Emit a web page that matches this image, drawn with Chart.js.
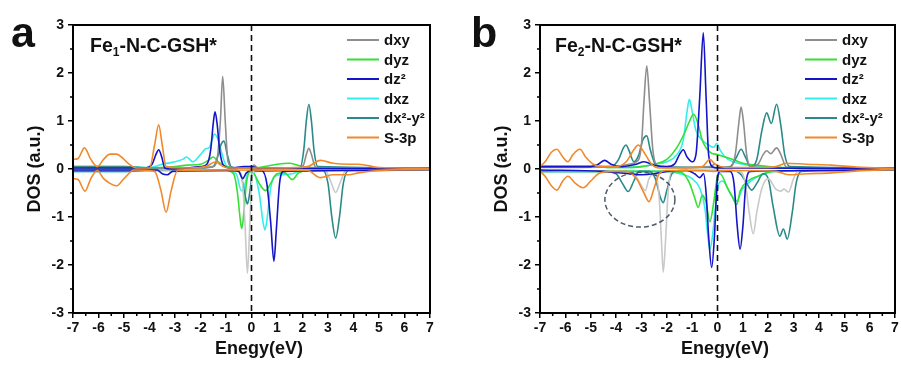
<!DOCTYPE html>
<html><head><meta charset="utf-8">
<script src="https://cdn.jsdelivr.net/npm/chart.js@4.4.1/dist/chart.umd.min.js"></script>
<style>
html,body{margin:0;padding:0;background:#fff;width:901px;height:365px;overflow:hidden}
#wa{position:absolute;left:0;top:0;width:450px;height:365px}
#wb{position:absolute;left:450px;top:0;width:451px;height:365px}
</style></head><body>
<div id="wa"><canvas id="ca"></canvas></div>
<div id="wb"><canvas id="cb"></canvas></div>
<script>
// ---------- labels ----------
const orbitalNames = ['dxy', 'dyz', 'dz\u00B2', 'dxz', 'dx\u00B2-y\u00B2', 'S-3p'];
const xTitle = 'Enegy(eV)';
const yTitle = 'DOS (a.u.)';
const xRange = [-7, 7];
const yRange = [-3, 3];

// ---------- panel a : Fe1-N-C-GSH*  ([energy, DOS]) ----------
const a_dxy_up = [[-7,0.03],[-5,0.03],[-3,0.02],[-2,0.03],[-1.5,0.05],[-1.35,0.2],[-1.22,1.0],[-1.13,1.93],[-1.03,1.0],[-0.92,0.15],[-0.7,0.02],[0,0.02],[0.1,0.08],[0.25,0.02],[1.9,0.02],[2.05,0.1],[2.15,0.3],[2.25,0.43],[2.35,0.3],[2.5,0.05],[2.7,0.02],[4,0.02],[7,0.01]];
const a_dxy_dn = [[-7,-0.02],[-1,-0.02],[-0.5,-0.05],[-0.35,-0.3],[-0.25,-1.2],[-0.16,-2.17],[-0.07,-1.2],[0.02,-0.2],[0.15,-0.02],[2.9,-0.03],[3.1,-0.25],[3.3,-0.49],[3.5,-0.25],[3.7,-0.03],[7,-0.01]];
const a_dyz_up = [[-7,0.02],[-4,0.02],[-3,0.05],[-2.5,0.08],[-2,0.1],[-1.7,0.18],[-1.5,0.25],[-1.3,0.15],[-1.0,0.05],[-0.6,0.02],[0,0.02],[0.5,0.05],[1.0,0.1],[1.5,0.12],[2.0,0.05],[3,0.02],[7,0.01]];
const a_dyz_dn = [[-7,-0.02],[-1,-0.03],[-0.7,-0.1],[-0.55,-0.5],[-0.42,-1.15],[-0.38,-1.24],[-0.3,-0.9],[-0.2,-0.3],[-0.05,-0.05],[0.1,-0.1],[0.3,-0.3],[0.55,-0.45],[0.75,-0.3],[1.0,-0.1],[1.3,-0.08],[1.6,-0.22],[1.85,-0.08],[2.2,-0.03],[7,-0.01]];
const a_dz2_up = [[-7,0.02],[-4.2,0.02],[-3.9,0.1],[-3.75,0.3],[-3.64,0.4],[-3.52,0.25],[-3.4,0.02],[-3.2,0.0],[-2.5,0.02],[-2,0.05],[-1.75,0.1],[-1.6,0.4],[-1.5,0.95],[-1.43,1.19],[-1.35,0.95],[-1.25,0.4],[-1.1,0.08],[-0.8,0.02],[-0.3,0.05],[0,0.05],[0.3,0.01],[7,0.01]];
const a_dz2_dn = [[-7,-0.02],[-3.7,-0.02],[-3.5,-0.1],[-3.3,-0.12],[-3.1,-0.05],[-1,-0.03],[-0.5,-0.05],[-0.35,-0.2],[-0.2,-0.08],[0,-0.02],[0.4,-0.03],[0.6,-0.3],[0.75,-1.1],[0.88,-1.92],[0.97,-1.3],[1.1,-0.3],[1.25,-0.05],[4,-0.03],[7,-0.01]];
const a_dxz_up = [[-7,0.05],[-5,0.05],[-4,0.03],[-3.5,0.1],[-3,0.15],[-2.7,0.2],[-2.55,0.25],[-2.3,0.15],[-2.0,0.3],[-1.8,0.42],[-1.65,0.45],[-1.55,0.6],[-1.45,0.73],[-1.3,0.6],[-1.15,0.3],[-1.0,0.08],[-0.7,0.02],[0,0.02],[7,0.01]];
const a_dxz_dn = [[-7,-0.05],[-5,-0.05],[-3,-0.03],[-1,-0.03],[-0.6,-0.1],[-0.4,-0.45],[-0.3,-0.4],[-0.15,-0.1],[0.05,-0.05],[0.3,-0.5],[0.45,-1.1],[0.53,-1.27],[0.62,-1.0],[0.75,-0.4],[0.9,-0.15],[1.2,-0.12],[1.6,-0.1],[2,-0.03],[7,-0.01]];
const a_dx2y2_up = [[-7,0.05],[-5,0.05],[-4,0.02],[-2,0.02],[-1.5,0.05],[-1.3,0.3],[-1.2,0.5],[-1.08,0.58],[-0.95,0.3],[-0.8,0.05],[-0.5,0.02],[1.9,0.02],[2.05,0.4],[2.15,1.0],[2.25,1.35],[2.35,1.0],[2.45,0.4],[2.6,0.05],[7,0.02]];
const a_dx2y2_dn = [[-7,-0.05],[-5,-0.05],[-4,-0.02],[-0.6,-0.02],[-0.4,-0.15],[-0.25,-0.55],[-0.16,-0.73],[-0.07,-0.5],[0.05,-0.05],[2.8,-0.03],[3.0,-0.3],[3.15,-1.0],[3.3,-1.44],[3.45,-1.0],[3.6,-0.3],[3.8,-0.03],[7,-0.02]];
const a_s3p_up = [[-7,0.2],[-6.8,0.22],[-6.55,0.44],[-6.3,0.2],[-6.05,0.05],[-5.8,0.2],[-5.55,0.31],[-5.3,0.31],[-5.1,0.25],[-4.8,0.1],[-4.5,0.02],[-4.0,0.02],[-3.8,0.5],[-3.64,0.92],[-3.5,0.5],[-3.35,0.05],[-2.5,0.02],[-1.8,0.05],[-1.4,0.15],[-1.2,0.08],[-0.9,0.02],[1,0.02],[2.2,0.05],[2.7,0.18],[3.2,0.12],[3.8,0.1],[4.2,0.1],[5,0.03],[7,0.01]];
const a_s3p_dn = [[-7,-0.2],[-6.8,-0.22],[-6.53,-0.46],[-6.3,-0.2],[-6.05,-0.03],[-5.8,-0.2],[-5.55,-0.3],[-5.3,-0.35],[-5.0,-0.2],[-4.6,-0.02],[-3.8,-0.05],[-3.55,-0.45],[-3.35,-0.9],[-3.15,-0.45],[-2.9,-0.03],[-1,-0.02],[2.2,-0.03],[2.7,-0.18],[3.2,-0.12],[3.8,-0.12],[4.2,-0.08],[5,-0.03],[7,-0.01]];

// ---------- panel b : Fe2-N-C-GSH* ----------
const b_dxy_up = [[-7,0.03],[-4,0.05],[-3.5,0.1],[-3.2,0.15],[-3.0,0.5],[-2.9,1.4],[-2.79,2.15],[-2.68,1.4],[-2.55,0.4],[-2.4,0.08],[-2,0.03],[-0.3,0.05],[-0.1,0.1],[0.1,0.05],[0.5,0.03],[0.7,0.3],[0.85,1.0],[0.93,1.29],[1.02,1.0],[1.15,0.3],[1.3,0.05],[1.6,0.1],[1.8,0.3],[1.94,0.38],[2.1,0.32],[2.33,0.44],[2.5,0.3],[2.7,0.05],[3,0.02],[7,0.01]];
const b_dxy_dn = [[-7,-0.03],[-4,-0.05],[-3.3,-0.1],[-3.0,-0.35],[-2.85,-0.45],[-2.7,-0.2],[-2.45,-0.1],[-2.3,-0.6],[-2.2,-1.6],[-2.14,-2.15],[-2.05,-1.5],[-1.95,-0.5],[-1.8,-0.05],[-0.3,-0.03],[0.9,-0.05],[1.1,-0.3],[1.25,-0.9],[1.41,-1.35],[1.55,-0.9],[1.75,-0.4],[2.0,-0.2],[2.3,-0.42],[2.5,-0.46],[2.62,-0.42],[2.8,-0.48],[3.0,-0.2],[3.2,-0.03],[7,-0.01]];
const b_dyz_up = [[-7,0.05],[-5,0.05],[-4,0.03],[-3,0.05],[-2.5,0.1],[-2,0.2],[-1.6,0.45],[-1.3,0.75],[-1.1,1.0],[-0.95,1.14],[-0.8,1.0],[-0.6,0.6],[-0.3,0.35],[0,0.3],[0.3,0.25],[0.6,0.2],[1.0,0.12],[1.5,0.08],[2,0.05],[3,0.02],[7,0.01]];
const b_dyz_dn = [[-7,-0.05],[-4,-0.05],[-2,-0.05],[-1.4,-0.08],[-1.1,-0.3],[-0.9,-0.6],[-0.76,-0.8],[-0.6,-0.55],[-0.45,-0.7],[-0.3,-1.1],[-0.15,-0.7],[0,-0.15],[0.1,-0.1],[0.4,-0.4],[0.6,-0.6],[0.76,-0.74],[0.9,-0.45],[1.2,-0.25],[1.6,-0.15],[2.2,-0.05],[7,-0.01]];
const b_dz2_up = [[-7,0.05],[-5,0.05],[-4.7,0.1],[-4.45,0.18],[-4.2,0.1],[-3.8,0.05],[-3.2,0.1],[-2.9,0.15],[-2.5,0.08],[-2,0.05],[-1.7,0.1],[-1.5,0.3],[-1.35,0.4],[-1.2,0.25],[-1.0,0.15],[-0.85,0.3],[-0.7,1.5],[-0.56,2.84],[-0.45,1.5],[-0.35,0.3],[-0.2,0.05],[0,0.02],[7,0.01]];
const b_dz2_dn = [[-7,-0.02],[-4.5,-0.05],[-3.5,-0.1],[-3,-0.12],[-2.5,-0.1],[-2,-0.05],[-1.2,-0.03],[-0.9,-0.1],[-0.7,-0.18],[-0.55,-0.1],[-0.45,-0.5],[-0.35,-1.4],[-0.23,-2.05],[-0.12,-1.4],[-0.02,-0.3],[0.1,-0.05],[0.5,-0.05],[0.65,-0.3],[0.78,-1.2],[0.89,-1.67],[1.0,-1.2],[1.12,-0.3],[1.3,-0.05],[4,-0.03],[7,-0.01]];
const b_dxz_up = [[-7,0.05],[-5,0.05],[-4,0.03],[-3,0.05],[-2.5,0.1],[-2,0.15],[-1.6,0.3],[-1.35,0.6],[-1.2,1.2],[-1.11,1.45],[-1.0,1.2],[-0.85,0.8],[-0.6,0.6],[-0.35,0.5],[-0.15,0.45],[-0.03,0.53],[0.1,0.4],[0.3,0.25],[0.6,0.15],[1,0.1],[1.5,0.05],[2.5,0.03],[7,0.01]];
const b_dxz_dn = [[-7,-0.05],[-4,-0.05],[-2,-0.05],[-1.5,-0.1],[-1.0,-0.2],[-0.7,-0.4],[-0.5,-0.8],[-0.38,-1.4],[-0.3,-1.67],[-0.2,-1.4],[-0.08,-0.8],[0.05,-0.3],[0.2,-0.25],[0.5,-0.5],[0.76,-0.67],[0.95,-0.45],[1.2,-0.3],[1.6,-0.15],[2.2,-0.05],[7,-0.01]];
const b_dx2y2_up = [[-7,0.05],[-5,0.05],[-4.2,0.05],[-3.9,0.2],[-3.7,0.45],[-3.61,0.5],[-3.5,0.4],[-3.3,0.15],[-3.1,0.3],[-2.95,0.6],[-2.79,0.69],[-2.65,0.4],[-2.45,0.1],[-2.2,0.05],[0,0.03],[0.5,0.05],[0.75,0.25],[0.93,0.41],[1.1,0.25],[1.3,0.05],[1.55,0.2],[1.75,0.8],[1.94,1.17],[2.12,0.95],[2.33,1.35],[2.5,0.9],[2.65,0.3],[2.85,0.05],[7,0.02]];
const b_dx2y2_dn = [[-7,-0.05],[-4.5,-0.05],[-4,-0.1],[-3.75,-0.3],[-3.52,-0.47],[-3.3,-0.25],[-3.1,-0.05],[-2.7,-0.05],[-2.45,-0.2],[-2.25,-0.6],[-2.14,-0.7],[-2.0,-0.45],[-1.8,-0.1],[-1.5,-0.03],[0.6,-0.03],[0.9,-0.1],[1.1,-0.25],[1.35,-0.44],[1.55,-0.3],[1.8,-0.1],[2.0,-0.2],[2.2,-0.8],[2.46,-1.4],[2.6,-1.25],[2.75,-1.46],[2.95,-0.9],[3.1,-0.3],[3.3,-0.05],[7,-0.02]];
const b_s3p_up = [[-7,0.05],[-6.8,0.15],[-6.55,0.35],[-6.34,0.41],[-6.1,0.25],[-5.9,0.15],[-5.7,0.3],[-5.42,0.41],[-5.2,0.25],[-4.9,0.1],[-4.5,0.05],[-4,0.05],[-3.6,0.15],[-3.3,0.4],[-3.13,0.5],[-2.9,0.35],[-2.6,0.1],[-2.3,0.02],[-1.5,0.02],[-0.6,0.05],[-0.3,0.2],[-0.1,0.1],[0.3,0.03],[1.5,0.03],[2.3,0.05],[2.7,0.12],[3.5,0.1],[4.5,0.08],[5.5,0.04],[7,0.01]];
const b_s3p_dn = [[-7,-0.05],[-6.8,-0.15],[-6.55,-0.35],[-6.34,-0.44],[-6.1,-0.25],[-5.9,-0.15],[-5.6,-0.3],[-5.3,-0.39],[-5.0,-0.25],[-4.7,-0.1],[-4.2,-0.05],[-3.6,-0.05],[-3.2,-0.2],[-2.9,-0.5],[-2.7,-0.68],[-2.5,-0.4],[-2.3,-0.1],[-2,-0.03],[-0.5,-0.03],[-0.2,-0.05],[0.5,-0.03],[2.3,-0.05],[2.8,-0.12],[3.5,-0.1],[4.5,-0.08],[5.5,-0.04],[7,-0.01]];

// ---------- styles ----------
const FONT = 'Arial, "Liberation Sans", sans-serif';
const upColors = ['#8e8e8e', '#33e033', '#1515c8', '#33eeee', '#2a8a8a', '#f0892a'];
const dnColors = ['#c9c9c9', '#33e033', '#1515c8', '#33eeee', '#2a8a8a', '#f0892a'];

function pts(arr) { return arr.map(p => ({ x: p[0], y: p[1] })); }

function buildDatasets(ups, dns) {
  const sets = [];
  // draw order: first dataset ends up on top
  const order = [5, 2, 0, 4, 1, 3];
  order.forEach(i => {
    sets.push({ label: orbitalNames[i], data: pts(ups[i]), borderColor: upColors[i] });
    sets.push({ label: orbitalNames[i] + ' down', data: pts(dns[i]), borderColor: dnColors[i] });
  });
  return sets.map(s => Object.assign(s, {
    borderWidth: 1.6, pointRadius: 0, fill: false, cubicInterpolationMode: 'monotone'
  }));
}

function decorPlugin(cfg) {
  return {
    id: 'decor',
    afterDatasetsDraw(chart) {
      const ctx = chart.ctx, ca = chart.chartArea;
      const xs = chart.scales.x, ys = chart.scales.y;
      ctx.save();
      // zero line
      ctx.strokeStyle = '#111'; ctx.lineWidth = 1.6; ctx.setLineDash([6, 4]);
      const x0 = xs.getPixelForValue(0);
      ctx.beginPath(); ctx.moveTo(x0, ca.top); ctx.lineTo(x0, ca.bottom); ctx.stroke();
      ctx.setLineDash([]);
      // ellipse annotation
      if (cfg.ellipse) {
        const e = cfg.ellipse;
        const cx = xs.getPixelForValue(e.x), cy = ys.getPixelForValue(e.y);
        const rx = Math.abs(xs.getPixelForValue(e.x + e.rx) - cx);
        const ry = Math.abs(ys.getPixelForValue(e.y + e.ry) - cy);
        ctx.strokeStyle = '#4d5a6a'; ctx.lineWidth = 1.5; ctx.setLineDash([5, 3]);
        ctx.beginPath(); ctx.ellipse(cx, cy, rx, ry, 0, 0, Math.PI * 2); ctx.stroke();
        ctx.setLineDash([]);
      }
      // frame
      ctx.strokeStyle = '#000'; ctx.lineWidth = 2;
      ctx.strokeRect(ca.left, ca.top, ca.right - ca.left, ca.bottom - ca.top);
      // minor ticks
      ctx.lineWidth = 1.5;
      for (let v = xRange[0] + 0.5; v < xRange[1]; v += 1) {
        const px = xs.getPixelForValue(v);
        ctx.beginPath(); ctx.moveTo(px, ca.bottom); ctx.lineTo(px, ca.bottom + 3); ctx.stroke();
      }
      for (let v = yRange[0] + 0.5; v < yRange[1]; v += 1) {
        const py = ys.getPixelForValue(v);
        ctx.beginPath(); ctx.moveTo(ca.left, py); ctx.lineTo(ca.left - 3, py); ctx.stroke();
      }
      // legend
      ctx.textBaseline = 'middle'; ctx.textAlign = 'left';
      ctx.font = 'bold 15px ' + FONT;
      orbitalNames.forEach((n, i) => {
        const y = cfg.legendY + i * 19.5;
        ctx.strokeStyle = upColors[i]; ctx.lineWidth = 2;
        ctx.beginPath(); ctx.moveTo(cfg.legendX, y); ctx.lineTo(cfg.legendX + 32, y); ctx.stroke();
        ctx.fillStyle = '#111';
        ctx.fillText(n, cfg.legendX + 37, y + 1);
      });
      // panel title with subscript
      ctx.textBaseline = 'alphabetic';
      ctx.fillStyle = '#111';
      let tx = cfg.titleX;
      ctx.font = 'bold 19.5px ' + FONT;
      ctx.fillText(cfg.title[0], tx, 52); tx += ctx.measureText(cfg.title[0]).width;
      ctx.font = 'bold 12px ' + FONT;
      ctx.fillText(cfg.title[1], tx, 56); tx += ctx.measureText(cfg.title[1]).width;
      ctx.font = 'bold 19.5px ' + FONT;
      ctx.fillText(cfg.title[2], tx, 52);
      // panel letter
      ctx.font = 'bold 43px ' + FONT;
      ctx.fillText(cfg.letter, cfg.letterX, 47);
      ctx.restore();
    }
  };
}

function makeChart(id, datasets, pad, yW, cfg) {
  return new Chart(document.getElementById(id), {
    type: 'line',
    data: { datasets },
    options: {
      responsive: true, maintainAspectRatio: false, animation: false,
      layout: { padding: pad },
      plugins: { legend: { display: false }, tooltip: { enabled: false } },
      scales: {
        x: {
          type: 'linear', min: xRange[0], max: xRange[1],
          afterFit: s => { s.height = 52; },
          ticks: { stepSize: 1, color: '#111', padding: 2, maxRotation: 0, font: { family: FONT, size: 14, weight: 'bold' } },
          grid: { drawOnChartArea: false, drawTicks: true, tickLength: 5, color: '#000', lineWidth: 1.5 },
          border: { display: true, color: '#000', width: 2 },
          title: { display: true, text: '   ' + xTitle, color: '#111', padding: 5, font: { family: FONT, size: 18, weight: 'bold' } }
        },
        y: {
          type: 'linear', min: yRange[0], max: yRange[1],
          afterFit: s => { s.width = yW; },
          ticks: { stepSize: 1, color: '#111', padding: 4, font: { family: FONT, size: 14, weight: 'bold' } },
          grid: { drawOnChartArea: false, drawTicks: true, tickLength: 5, color: '#000', lineWidth: 1.5 },
          border: { display: true, color: '#000', width: 2 },
          title: { display: true, text: yTitle, color: '#111', padding: 2, font: { family: FONT, size: 18, weight: 'bold' } }
        }
      }
    },
    plugins: [decorPlugin(cfg)]
  });
}

makeChart('ca',
  buildDatasets([a_dxy_up, a_dyz_up, a_dz2_up, a_dxz_up, a_dx2y2_up, a_s3p_up],
                [a_dxy_dn, a_dyz_dn, a_dz2_dn, a_dxz_dn, a_dx2y2_dn, a_s3p_dn]),
  { left: 22, right: 20, top: 25, bottom: 0 }, 51,
  { legendX: 347, legendY: 40, titleX: 90, title: ['Fe', '1', '-N-C-GSH*'], letter: 'a', letterX: 11 });

makeChart('cb',
  buildDatasets([b_dxy_up, b_dyz_up, b_dz2_up, b_dxz_up, b_dx2y2_up, b_s3p_up],
                [b_dxy_dn, b_dyz_dn, b_dz2_dn, b_dxz_dn, b_dx2y2_dn, b_s3p_dn]),
  { left: 39, right: 6, top: 25, bottom: 0 }, 51,
  { legendX: 355, legendY: 40, titleX: 105, title: ['Fe', '2', '-N-C-GSH*'], letter: 'b', letterX: 21,
    ellipse: { x: -3.06, y: -0.64, rx: 1.38, ry: 0.57 } });
</script>
</body></html>
